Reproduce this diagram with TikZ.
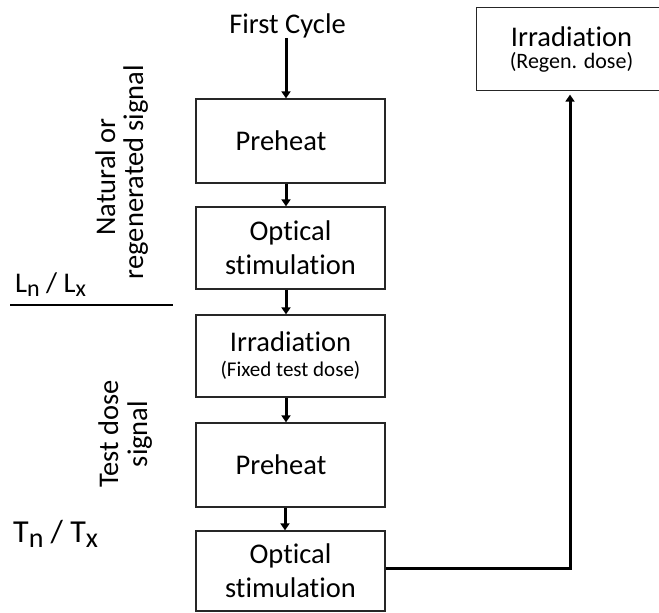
\documentclass[tikz,border=0pt]{standalone}
\usepackage{fontspec}
\setmainfont{Carlito}[Ligatures={NoCommon,NoContextual}]
\usetikzlibrary{arrows.meta}
\newcommand\mysub[2]{\raisebox{-#2}{#1}}
\begin{document}
\begin{tikzpicture}[x=1pt,y=-1pt,
  boxline/.style={draw=black!85,line width=1.3pt},
  stepbox/.style={boxline,minimum width=189pt,inner sep=0pt,align=center,
    font=\fontsize{28.5}{34}\selectfont},
  arr/.style={line width=3pt,-{Triangle[width=9pt,length=7pt]}},
  vlab/.style={rotate=90,anchor=base,inner sep=0pt,font=\fontsize{28.5}{34}\selectfont}]
\useasboundingbox (0,0) rectangle (659,613);
\fill[white] (0,0) rectangle (659,613);
\clip (0,0) rectangle (659,613);

\node[anchor=base,inner sep=0pt,font=\fontsize{28.5}{34}\selectfont] (first) at (287.5,33) {First Cycle};

\node[stepbox,minimum height=84pt] (b1) at (290.5,141) {Preheat\hspace*{19pt}};
\node[stepbox,minimum height=82pt] (b2) at (290.5,248) {Optical\\stimulation};
\node[stepbox,minimum height=82pt] (b3) at (290.5,356) {Irradiation\\[-9pt]{\fontsize{21}{25}\selectfont (Fixed test dose)}};
\node[stepbox,minimum height=84pt] (b4) at (290.5,465) {Preheat\hspace*{19pt}};
\node[stepbox,minimum height=80pt] (b5) at (290.5,571) {Optical\\stimulation};
\node[stepbox,draw=none,minimum width=210pt,minimum height=82pt] (b6) at (582,49) {\hspace*{-21pt}Irradiation\\[-12pt]{\fontsize{22}{25}\selectfont\hspace*{-21pt}(Regen. dose)}};
\draw[boxline] (b6.north east) -- (b6.north west) -- (b6.south west) -- (b6.south east);

\draw[arr] ([xshift=-1.5pt]first.south) -- ([xshift=-4.5pt]b1.north);
\draw[arr] ([xshift=-4.5pt]b1.south) -- ([xshift=-4.5pt]b2.north);
\draw[arr] ([xshift=-4.5pt]b2.south) -- ([xshift=-4.5pt]b3.north);
\draw[arr] ([xshift=-4.5pt]b3.south) -- ([xshift=-4.5pt]b4.north);
\draw[arr] ([xshift=-5.5pt]b4.south) -- ([xshift=-5.5pt]b5.north);
\draw[arr,shorten >=4pt] ([yshift=3pt]b5.east) -| ([xshift=-12pt]b6.south);

\node[vlab] (nat) at (115,177) {Natural or};
\node[vlab] (regen) at (143,172) {regenerated signal};
\node[vlab] (test) at (118,434) {Test dose};
\node[vlab] (sig) at (147,434) {signal};

\node[anchor=base west,inner sep=0pt,font=\fontsize{28.5}{34}\selectfont] (lnlx) at (15,292)
  {L\mysub{\fontsize{24}{24}\selectfont n}{4pt} / L\mysub{\fontsize{24}{24}\selectfont x}{4pt}};
\node[anchor=base west,inner sep=0pt,font=\fontsize{32}{38}\selectfont] (tntx) at (13,542)
  {T\mysub{\fontsize{28}{28}\selectfont n}{5pt} / T\mysub{\fontsize{28}{28}\selectfont x}{5pt}};
\draw[line width=2pt] (10,305) -- (173,305);
\end{tikzpicture}
\end{document}
